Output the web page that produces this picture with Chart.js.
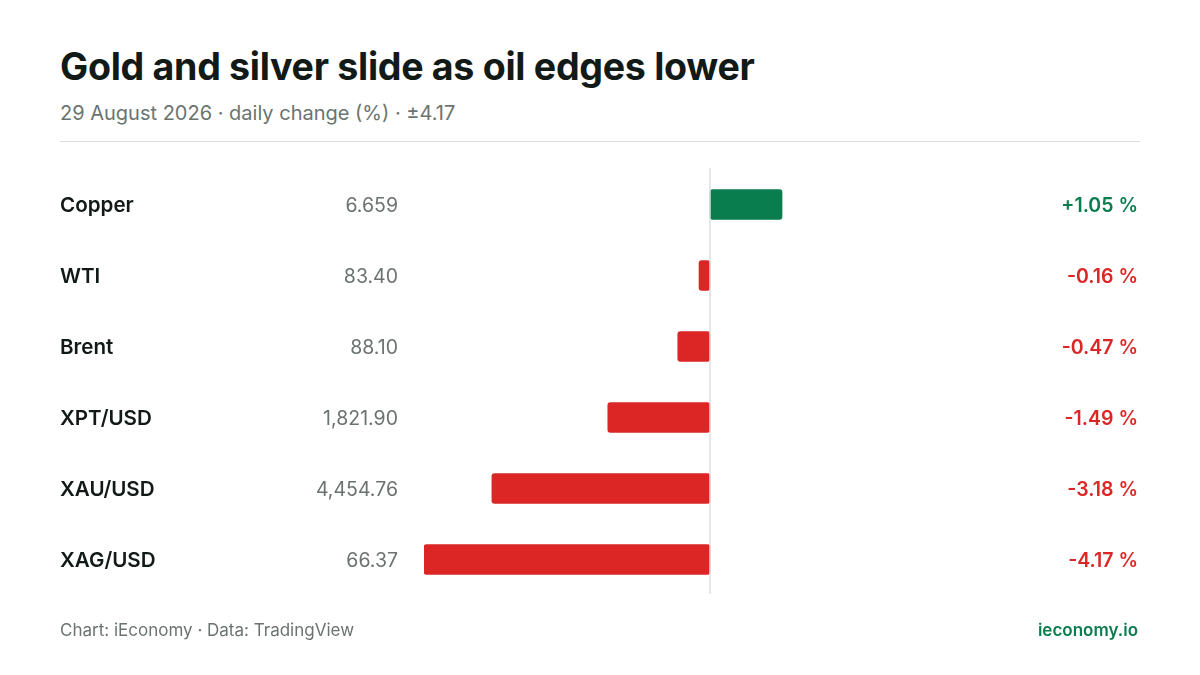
<!DOCTYPE html>
<html><head><meta charset="utf-8">
<script src="https://cdn.jsdelivr.net/npm/chart.js@4"></script>
<style>
html,body{margin:0;padding:0;background:#fff;width:1200px;height:675px;overflow:hidden;font-family:Inter,sans-serif}
#t{position:absolute;left:60px;top:44px;font-size:37.6px;font-weight:700;color:#111a17;letter-spacing:-0.3px}
#s{position:absolute;left:60px;top:101px;font-size:20px;color:#6b7370}
#hr{position:absolute;left:60px;top:141px;width:1080px;height:1px;background:#dcdfde}
#f1{position:absolute;left:60px;top:620px;font-size:17px;color:#6b7370}
#f2{position:absolute;right:62px;top:620px;font-size:17px;color:#0a7d4f;font-weight:600}
#w{position:absolute;left:0;top:0;width:1200px;height:675px}
</style></head><body>
<div id="t">Gold and silver slide as oil edges lower</div>
<div id="s">29 August 2026 · daily change (%) · ±4.17</div>
<div id="hr"></div>
<div id="w"><canvas id="c"></canvas></div>
<div id="f1">Chart: iEconomy · Data: TradingView</div>
<div id="f2">ieconomy.io</div>
<script>
const categories=["Copper","WTI","Brent","XPT/USD","XAU/USD","XAG/USD"];
const prices=["6.659","83.40","88.10","1,821.90","4,454.76","66.37"];
const changes=[1.05,-0.16,-0.47,-1.49,-3.18,-4.17];
const GREEN="#0a7d4f",RED="#dc2626";
const labels={id:"labels",afterDatasetsDraw(ch){
 const c=ch.ctx,y=ch.scales.y,x=ch.scales.x;
 c.save();c.textBaseline="middle";
 categories.forEach((n,i)=>{const py=y.getPixelForValue(i)+1.5;
  c.font="600 20.6px Inter";c.fillStyle="#111a17";c.textAlign="left";c.fillText(n,60,py);
  c.font="19.5px Inter";c.fillStyle="#6b7370";c.textAlign="right";c.fillText(prices[i],398,py);
  const v=changes[i];c.font="600 19.5px Inter";c.fillStyle=v>=0?GREEN:RED;
  c.fillText((v>=0?"+":"")+v.toFixed(2)+" %",1138,py);});
 const zx=x.getPixelForValue(0);c.strokeStyle="#dcdfde";c.lineWidth=1.5;
 c.beginPath();c.moveTo(zx,168);c.lineTo(zx,594);c.stroke();
 c.restore();}};
new Chart(document.getElementById("c"),{type:"bar",
 data:{labels:categories,datasets:[{data:changes,backgroundColor:changes.map(v=>v>=0?GREEN:RED),barThickness:30,borderRadius:3,borderSkipped:false}]},
 options:{indexAxis:"y",responsive:true,maintainAspectRatio:false,animation:false,
  layout:{padding:{left:424,right:204,top:169,bottom:80}},
  plugins:{legend:{display:false},tooltip:{enabled:false}},
  scales:{x:{min:-4.17,max:4.17,display:false},y:{display:false}}},
 plugins:[labels]});
</script></body></html>
